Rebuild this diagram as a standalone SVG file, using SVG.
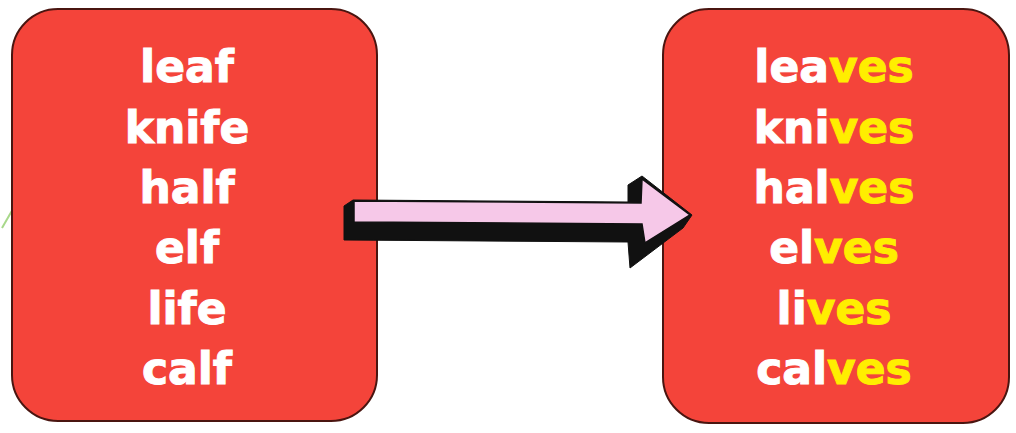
<svg xmlns="http://www.w3.org/2000/svg" width="1016" height="433" viewBox="0 0 1016 433">
<style>
.box{fill:#f4443a;stroke:#4a1510;stroke-width:2}
.w{font-family:"DejaVu Sans","Verdana",sans-serif;font-weight:bold;font-size:44px;fill:#ffffff;stroke:#ffffff;stroke-width:1;text-anchor:middle}
.y{fill:#ffee00;stroke:#ffee00}
</style>
<rect x="0" y="0" width="1016" height="433" fill="#ffffff"/>
<line x1="21" y1="195" x2="2" y2="228" stroke="#a8d88a" stroke-width="2"/>
<line x1="22" y1="194" x2="14" y2="207" stroke="#e8a070" stroke-width="1.5"/>
<g id="singular">
<rect class="box" x="12" y="9" width="365" height="412" rx="46"/>
<text class="w" x="187" y="82">leaf</text>
<text class="w" x="187" y="143">knife</text>
<text class="w" x="187" y="203">half</text>
<text class="w" x="187" y="263">elf</text>
<text class="w" x="187" y="324">life</text>
<text class="w" x="187" y="384">calf</text>
</g>
<g id="plural">
<rect class="box" x="663" y="9" width="346" height="414" rx="46"/>
<text class="w" x="834" y="82">lea<tspan class="y">ves</tspan></text>
<text class="w" x="834" y="143">kni<tspan class="y">ves</tspan></text>
<text class="w" x="834" y="203">hal<tspan class="y">ves</tspan></text>
<text class="w" x="834" y="263">el<tspan class="y">ves</tspan></text>
<text class="w" x="834" y="324">li<tspan class="y">ves</tspan></text>
<text class="w" x="834" y="384">cal<tspan class="y">ves</tspan></text>
</g>
<g id="connectors">
<polygon points="353,200 628,202 628,185 642,176 692,215 683,228 630,268 628,242 344,240 344,206" fill="#111111" stroke="#111111" stroke-width="1"/>
<polygon points="354,201 641,203 642,179 690,215 645,243 642,224 354,222" fill="#f6c8e8" stroke="#111111" stroke-width="1.5"/>
</g>
</svg>
